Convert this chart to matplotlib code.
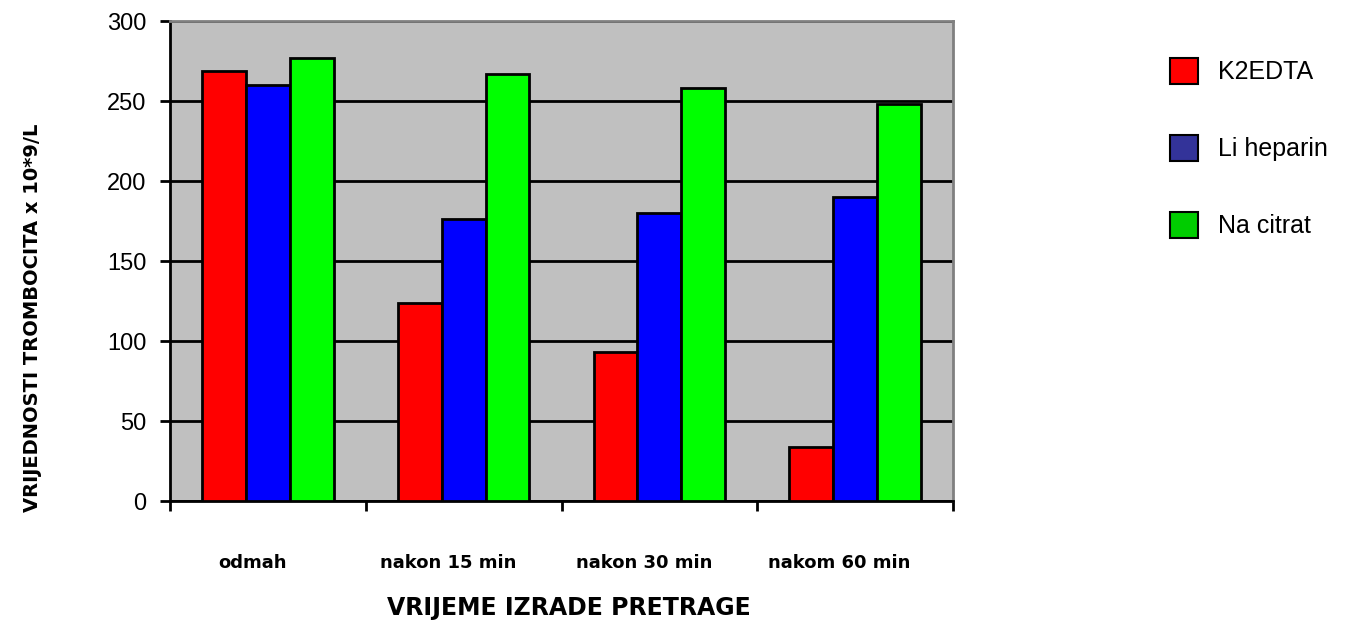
import numpy as np
import matplotlib
matplotlib.use("Agg")
import matplotlib.pyplot as plt
from matplotlib.patches import Patch

categories = ["odmah", "nakon 15 min", "nakon 30 min", "nakom 60 min"]
series = ["K2EDTA", "Li heparin", "Na citrat"]
k2edta = [269, 124, 93, 34]
li_heparin = [260, 176, 180, 190]
na_citrat = [277, 267, 258, 248]
yticks = [0, 50, 100, 150, 200, 250, 300]

bar_colors = ["#FF0000", "#0000FF", "#00FF00"]
legend_colors = ["#FF0000", "#333399", "#00CC00"]

fig = plt.figure(figsize=(13.69, 6.21), dpi=100)
ax = fig.add_axes([170 / 1369, 1 - 501 / 621, 783 / 1369, 480 / 621])
ax.set_facecolor("#C0C0C0")

x = np.arange(len(categories))
width = 0.224
for i, vals in enumerate([k2edta, li_heparin, na_citrat]):
    ax.bar(x + (i - 1) * width, vals, width, color=bar_colors[i],
           edgecolor="black", linewidth=2, zorder=3)

ax.set_xlim(-0.5, len(categories) - 0.5)
ax.set_ylim(0, 300)
ax.set_yticks(yticks)
ax.set_yticklabels([str(v) for v in yticks], fontsize=17, family="Liberation Sans")
ax.yaxis.grid(True, color="black", linewidth=2, zorder=1)
ax.tick_params(axis="y", direction="out", length=7, width=2, pad=10)

# category boundaries as major ticks, labels shifted a bit left like the original
ax.set_xticks(np.arange(-0.5, len(categories)), labels=[""] * (len(categories) + 1))
ax.tick_params(axis="x", which="major", direction="out", length=7, width=2)
ax.set_xticks(x - 0.08, labels=categories, minor=True)
ax.tick_params(axis="x", which="minor", length=0, pad=38)
for lab in ax.get_xticklabels(minor=True):
    lab.set_fontsize(13)
    lab.set_fontweight("bold")

for s in ["left", "bottom"]:
    ax.spines[s].set_color("black")
    ax.spines[s].set_linewidth(2)
for s in ["top", "right"]:
    ax.spines[s].set_color("#808080")
    ax.spines[s].set_linewidth(2)

fig.text(569 / 1369, 1 - 608 / 621, "VRIJEME IZRADE PRETRAGE", ha="center", va="center",
         fontsize=17, fontweight="bold")
fig.text(33 / 1369, 1 - 318 / 621, "VRIJEDNOSTI TROMBOCITA x 10*9/L", ha="center",
         va="center", rotation=90, fontsize=14, fontweight="bold")

handles = [Patch(facecolor=c, edgecolor="black", linewidth=1.5) for c in legend_colors]
fig.legend(handles, series, loc="upper left", bbox_to_anchor=(1170 / 1369, 1 - 58 / 621),
           frameon=False, prop={"family": "Liberation Sans", "size": 18},
           handlelength=1.1, handleheight=1.2, handletextpad=0.8, labelspacing=2.03,
           borderpad=0, borderaxespad=0)

fig.savefig("out.png", dpi=100)
